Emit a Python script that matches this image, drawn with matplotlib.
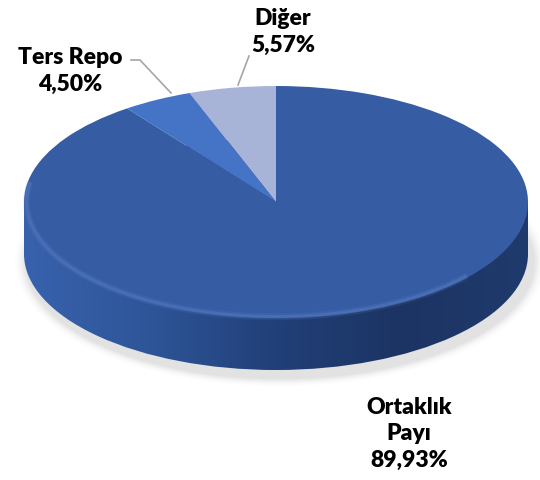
import numpy as np
import matplotlib
matplotlib.use("Agg")
import matplotlib.pyplot as plt
from matplotlib.patches import Ellipse, Rectangle, Arc
from matplotlib.colors import LinearSegmentedColormap

# ------------------------------------------------------------------
# Data
# ------------------------------------------------------------------
categories = ["Diğer", "Ters Repo", "Ortaklık\nPayı"]
shares = [5.57, 4.50, 89.93]
share_labels = ["5,57%", "4,50%", "89,93%"]
top_colors = ["#a7b4d8", "#4574c6", "#365ca3"]

# ------------------------------------------------------------------
# Geometry (pixels of a 540x481 canvas)
# ------------------------------------------------------------------
W, H = 540, 481
cx, cy = 276, 203      # centre of the top surface
rx, ry = 252, 116      # ellipse radii
depth = 52             # thickness of the disc
k = ry / rx            # vertical squash


def to_data(px, py):
    return px, (H - py) / k


plt.rcParams['font.family'] = ['Lato', 'DejaVu Sans']

fig = plt.figure(figsize=(5.4, 4.81), dpi=100)
ax = fig.add_axes([0, 0, 1, 1])
ax.set_axis_off()

# soft shadow under the disc
for i, a in enumerate(np.linspace(0.06, 0.015, 6)):
    sx, sy = to_data(cx + 4, cy + depth + 8)
    ax.add_patch(Ellipse((sx, sy), 2 * rx + 6 + 4 * i, 2 * ry / k + 6 + 6 * i,
                         color="#808080", alpha=a, lw=0, zorder=1))

# side of the disc: horizontal gradient, clipped to the extrusion
side_cmap = LinearSegmentedColormap.from_list(
    "side", ["#3862ad", "#2e5598", "#213f78", "#1c3463", "#1f3a6c"])
grad = np.linspace(0, 1, 256).reshape(1, -1)
bx, by = to_data(cx, cy + depth)
tx, ty = to_data(cx, cy)
clips = [Ellipse((bx, by), 2 * rx, 2 * ry / k, transform=ax.transData),
         Rectangle((cx - rx, by), 2 * rx, ty - by, transform=ax.transData)]
for clip in clips:
    im = ax.imshow(grad, cmap=side_cmap, aspect="auto", zorder=2,
                   extent=(cx - rx, cx + rx, by - ry / k, ty + ry / k))
    im.set_clip_path(clip)

# top surface
wedges, _ = ax.pie(shares, colors=top_colors, startangle=90, counterclock=True,
                   radius=rx, center=(tx, ty), frame=True,
                   wedgeprops=dict(linewidth=0, zorder=3))
for w in wedges:
    w.set_zorder(3)

# soft bevel along the front rim
for lw, a in [(5, 0.12), (2.5, 0.25)]:
    ax.add_patch(Arc((tx, ty), 2 * rx - 5, 2 * ry / k - 5, theta1=170, theta2=320,
                     color="#6a93da", lw=lw, alpha=a, zorder=4))

ax.set_aspect("auto")
ax.set_xlim(0, W)
ax.set_ylim(0, H / k)
ax.set_axis_off()

# labels
font = dict(fontsize=16.5, fontweight="heavy", color="black", ha="center",
            va="center", linespacing=1.3)
fig.text(283 / W, 1 - 32 / H, categories[0] + "\n" + share_labels[0], **font)
fig.text(70 / W, 1 - 71 / H, categories[1] + "\n" + share_labels[1], **font)
fig.text(409 / W, 1 - 434 / H, categories[2] + "\n" + share_labels[2], **font)

# leader lines
lx, ly = zip(*[to_data(*p) for p in [(249, 57), (238, 86)]])
ax.plot(lx, ly, color="#a6a6a6", lw=1.2, zorder=5)
lx, ly = zip(*[to_data(*p) for p in [(131, 61), (140, 61), (171, 94)]])
ax.plot(lx, ly, color="#a6a6a6", lw=1.2, zorder=5)

fig.savefig("out.png", dpi=100)
